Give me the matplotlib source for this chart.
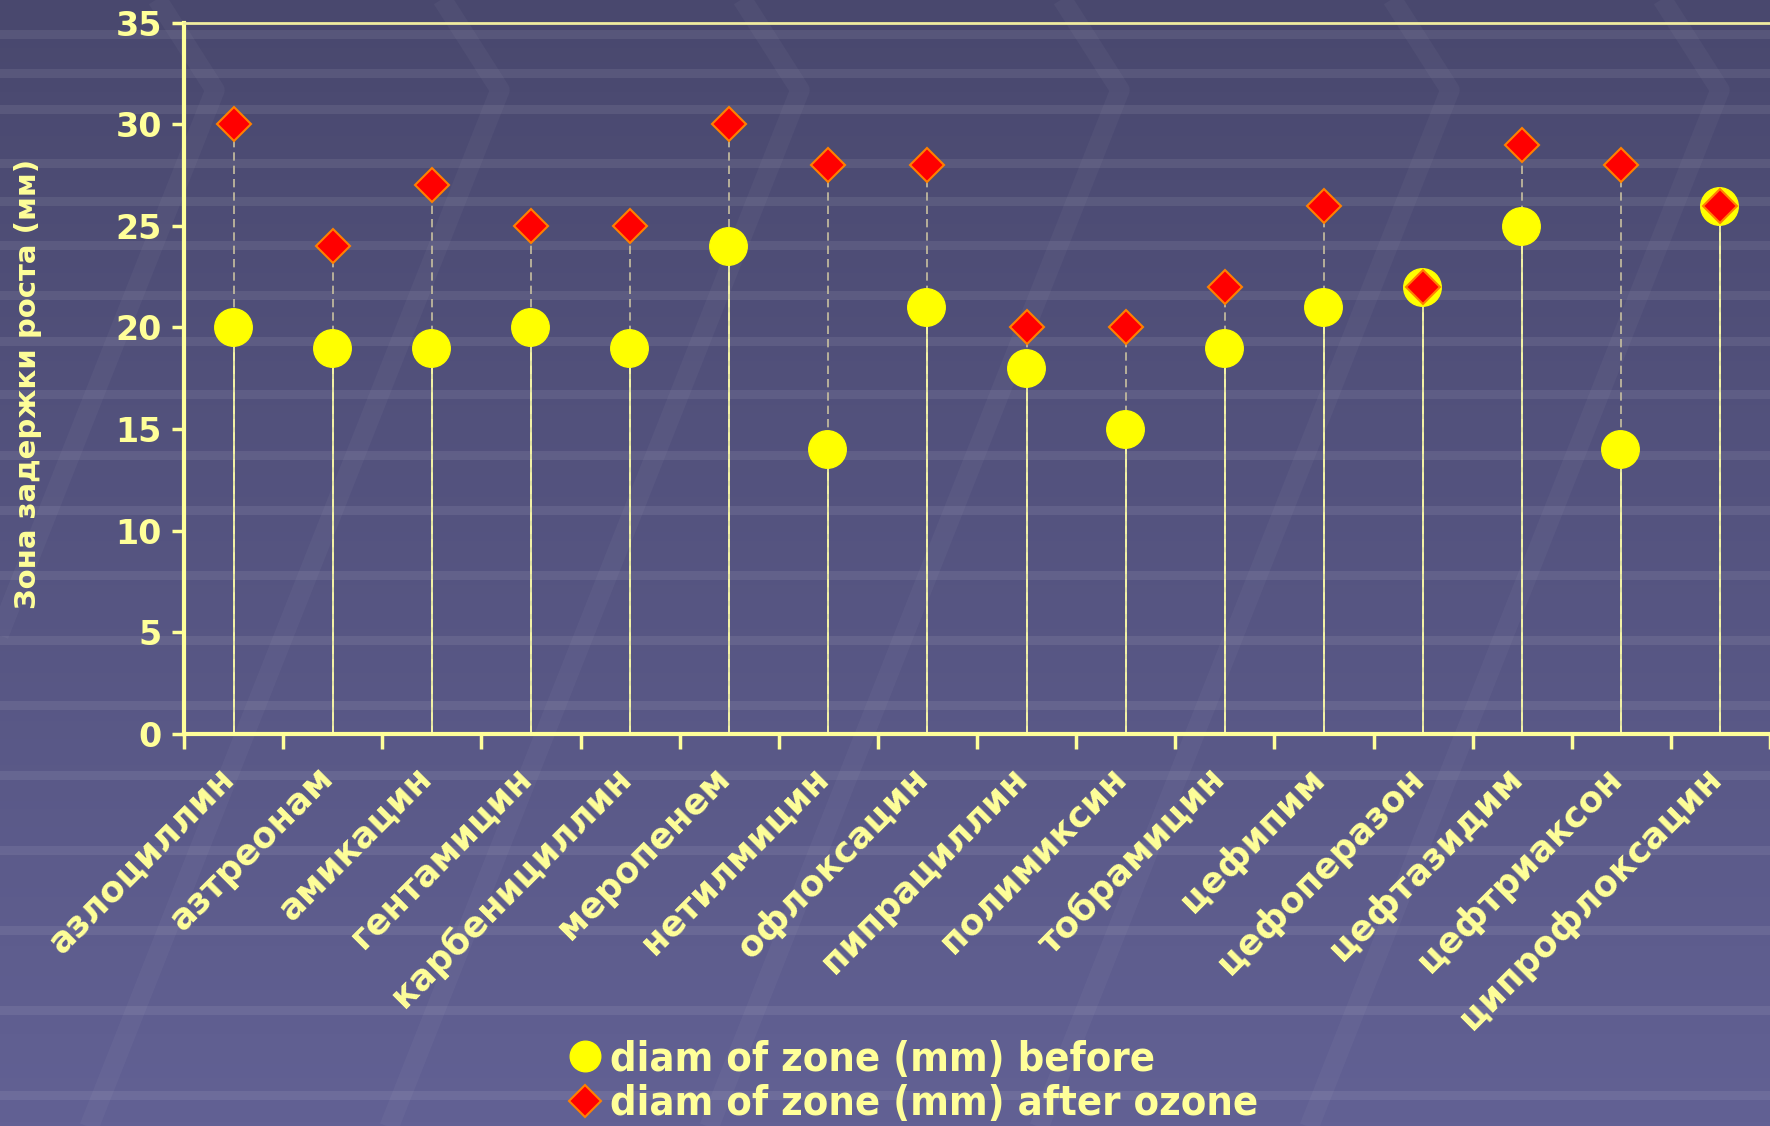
import numpy as np
import matplotlib
matplotlib.use("Agg")
import matplotlib.pyplot as plt
import matplotlib.transforms as mtransforms
from matplotlib.lines import Line2D
from matplotlib import font_manager as fm

# ---------------- data ----------------
categories = ["азлоциллин", "азтреонам", "амикацин", "гентамицин", "карбенициллин",
              "меропенем", "нетилмицин", "офлоксацин", "пипрациллин", "полимиксин",
              "тобрамицин", "цефипим", "цефоперазон", "цефтазидим", "цефтриаксон",
              "ципрофлоксацин"]
before = [20, 19, 19, 20, 19, 24, 14, 21, 18, 15, 19, 21, 22, 25, 14, 26]
after = [30, 24, 27, 25, 25, 30, 28, 28, 20, 20, 22, 26, 22, 29, 28, 26]
yticks = [0, 5, 10, 15, 20, 25, 30, 35]
label_before = "diam of zone (mm) before"
label_after = "diam of zone (mm) after ozone"
ylabel = "Зона задержки роста (мм)"

TXT = "#ffff99"
W, H = 1770, 1126

# find a condensed bold font for the legend if one is installed
cond = None
for f in fm.fontManager.ttflist:
    nm = (f.name + " " + f.fname).lower()
    if ("condensed" in nm or "narrow" in nm) and (f.weight in ("bold", 700) or "bold" in nm) \
            and "italic" not in nm and "oblique" not in nm and "semi" not in nm and "extra" not in nm:
        cond = f.fname
        break
if cond:
    leg_prop = fm.FontProperties(fname=cond, size=29.8)
else:
    leg_prop = fm.FontProperties(family="DejaVu Sans", weight="bold", size=24.5)

fig = plt.figure(figsize=(W / 100, H / 100), dpi=100)

# ---------------- background ----------------
bg = fig.add_axes([0, 0, 1, 1], zorder=-10)
bg.set_xlim(0, W)
bg.set_ylim(H, 0)
bg.axis("off")
top_c = np.array([73, 72, 110]) / 255
bot_c = np.array([98, 97, 148]) / 255
t = np.linspace(0, 1, 256)[:, None, None]
grad = top_c * (1 - t) + bot_c * t
bg.imshow(np.repeat(grad, 2, axis=1), extent=[0, W, H, 0], aspect="auto", zorder=0)
stripe_y = [34, 73, 109, 163, 201, 245, 295, 341, 394, 455, 510, 575, 640, 705, 775, 850, 930, 1010, 1095]
for y in stripe_y:
    bg.axhspan(y - 4, y + 5, color="white", alpha=0.08, lw=0, zorder=1)
chev = [(-60, 90), (215, 90), (500, 90), (800, 90), (1120, 90), (1450, 90), (1720, 90)]
for cx, cy in chev:
    bg.plot([cx - 70, cx, cx - 420], [-20, cy, 1150], color="white", alpha=0.035, lw=14,
            solid_capstyle="butt", zorder=1)

# ---------------- main axes ----------------
ax = fig.add_axes([184 / W, 1 - 734 / H, 1 - 184 / W, (734 - 22.6) / H])
ax.patch.set_alpha(0)
x = np.arange(len(categories))

ax.vlines(x, 0, after, colors="#c8c0a0", linestyles=(0, (5, 3)), lw=1.2, zorder=2)
ax.vlines(x, 0, before, colors="#ffffa8", lw=1.2, zorder=3)
ax.plot(x - 0.01, before, "o", ms=27, color="#ffff00", mec="#ffff00", ls="none", zorder=4,
        label=label_before)
ax.plot(x, after, "D", ms=17.5, color="#ff0000", mec="#ff8000", mew=1.5, ls="none", zorder=5,
        label=label_after)

ax.set_xlim(-0.5, len(categories) - 0.5)
ax.set_ylim(0, 35)
ax.set_yticks(yticks)
ax.set_yticklabels([str(v) for v in yticks], fontsize=24, fontweight="bold", color=TXT)
ax.tick_params(axis="y", direction="out", length=9, width=2.5, color=TXT, pad=7)

ax.set_xticks(x)
ax.set_xticklabels(categories, rotation=45, ha="right", va="center", rotation_mode="anchor",
                   fontsize=25.5, fontweight="bold", color=TXT)
ax.tick_params(axis="x", which="major", length=0, pad=28)
shift = mtransforms.ScaledTranslation(-5 / 100, 0, fig.dpi_scale_trans)
for lab in ax.get_xticklabels():
    lab.set_transform(lab.get_transform() + shift)
ax.set_xticks(np.arange(-0.5, len(categories) + 0.5, 1), minor=True)
ax.tick_params(axis="x", which="minor", direction="out", length=11, width=2.5, color=TXT)

for s in ["left", "bottom"]:
    ax.spines[s].set_color(TXT)
    ax.spines[s].set_linewidth(3)
ax.spines["top"].set_color("#f0eca0")
ax.spines["top"].set_linewidth(2)
ax.spines["right"].set_visible(False)

fig.text(28 / W, 1 - 384 / H, ylabel, rotation=90, ha="center", va="center",
         fontsize=21, fontweight="bold", color=TXT)

handles = [Line2D([], [], marker="o", ls="none", ms=22, color="#ffff00"),
           Line2D([], [], marker="D", ls="none", ms=16, color="#ff0000", mec="#ff8000", mew=1.5)]
leg = fig.legend(handles, [label_before, label_after], loc="center left",
                 bbox_to_anchor=(552 / W, 1 - 1082 / H), frameon=False, prop=leg_prop,
                 handlelength=0.6, handletextpad=0.3, labelspacing=0.12, borderpad=0)
for tx in leg.get_texts():
    tx.set_color(TXT)

fig.savefig("out.png", dpi=100)
